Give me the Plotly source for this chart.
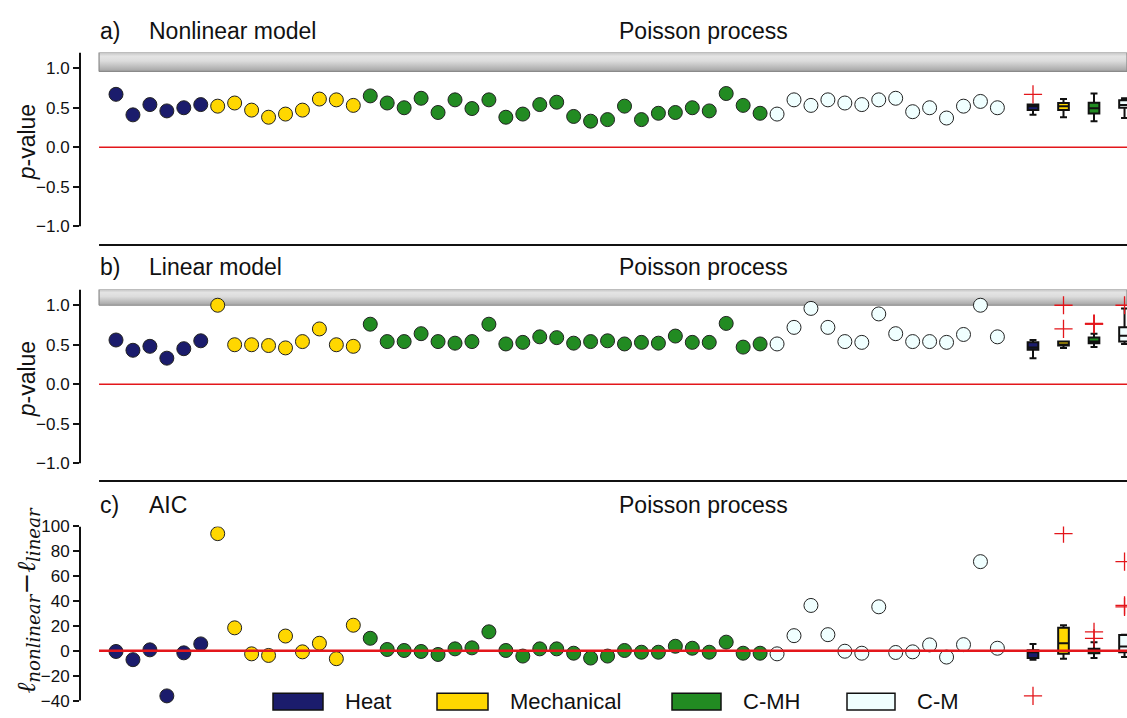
import numpy as np
import plotly.graph_objects as go

# ---- data -------------------------------------------------------------
groups = ["Heat", "Mechanical", "C-MH", "C-M"]
group_colors = ["#1b1c6c", "#ffd700", "#228b22", "#f0ffff"]

# a) nonlinear model p-values
heat_a = [0.67, 0.41, 0.54, 0.46, 0.50, 0.54]
mech_a = [0.52, 0.56, 0.47, 0.38, 0.42, 0.47, 0.61, 0.60, 0.53]
cmh_a = [0.65, 0.56, 0.50, 0.62, 0.44, 0.60, 0.49, 0.60, 0.38, 0.42, 0.54, 0.57,
         0.39, 0.33, 0.35, 0.52, 0.35, 0.43, 0.44, 0.50, 0.46, 0.68, 0.53, 0.43]
cm_a = [0.42, 0.60, 0.53, 0.60, 0.56, 0.54, 0.60, 0.62, 0.45, 0.50, 0.37, 0.52, 0.58, 0.50]

# b) linear model p-values
heat_b = [0.56, 0.43, 0.48, 0.33, 0.45, 0.55]
mech_b = [1.00, 0.50, 0.50, 0.49, 0.46, 0.54, 0.70, 0.50, 0.48]
cmh_b = [0.76, 0.54, 0.54, 0.64, 0.54, 0.52, 0.54, 0.76, 0.51, 0.53, 0.60, 0.59,
         0.52, 0.54, 0.55, 0.51, 0.53, 0.52, 0.61, 0.53, 0.53, 0.77, 0.47, 0.51]
cm_b = [0.51, 0.72, 0.96, 0.72, 0.54, 0.53, 0.89, 0.64, 0.54, 0.54, 0.53, 0.63, 1.00, 0.60]

# c) log-likelihood difference (AIC)
heat_c = [-0.5, -7.1, 0.8, -36.2, -1.6, 5.6]
mech_c = [94.2, 18.5, -2.4, -3.7, 11.9, -0.8, 6.1, -6.3, 20.6]
cmh_c = [10.1, 1.1, 0.3, -0.5, -2.9, 1.6, 2.4, 15.3, 0.3, -4.2, 1.6, 1.6,
         -1.9, -5.8, -4.2, 0.3, -1.1, -1.1, 3.7, 2.1, -1.1, 7.0, -1.9, -1.9]
cm_c = [-2.4, 12.2, 36.5, 13.0, -0.3, -1.9, 35.4, -1.3, -0.8, 4.8, -5.0, 5.0, 71.7, 2.1]

p_ticks = [-1.0, -0.5, 0.0, 0.5, 1.0]
aic_ticks = [-40, -20, 0, 20, 40, 60, 80, 100]

# ---- geometry ---------------------------------------------------------
W, H = 1127, 718
FONT = "Liberation Sans, Arial, Helvetica, sans-serif"
X0_PX, DX_PX = 116.0, 16.95        # pixel position of first sample and spacing
AXIS_PX = 80.0                     # left spine position
x_lo = (AXIS_PX - X0_PX) / DX_PX
x_hi = (W - X0_PX) / DX_PX
box_pos = [54.1, 55.9, 57.7, 59.5]
box_width = 0.63


def yp(px):
    return 1 - px / H


def fmt(v, dec):
    s = f"{abs(v):.{dec}f}"
    return ("\u2212" + s) if v < 0 else s


panels = [
    dict(data=[heat_a, mech_a, cmh_a, cm_a], top=44, bottom=239, rng=[-1.2375, 1.2],
         ticks=p_ticks, dec=1, axis_span=(-1.0, 1.2), band=(0.96, 1.2),
         label="a)", title="Nonlinear model", title_y=22, ytitle="<i>p</i>-value",
         ytitle_y=135, red_w=1.5, sep=True),
    dict(data=[heat_b, mech_b, cmh_b, cm_b], top=284, bottom=478, rng=[-1.225, 1.2],
         ticks=p_ticks, dec=1, axis_span=(-1.0, 1.2), band=(1.0, 1.2),
         label="b)", title="Linear model", title_y=261, ytitle="<i>p</i>-value",
         ytitle_y=375, red_w=1.5, sep=True),
    dict(data=[heat_c, mech_c, cmh_c, cm_c], top=524, bottom=718, rng=[-53.97, 100],
         ticks=aic_ticks, dec=0, axis_span=(-40, 100), band=None,
         label="c)", title="AIC", title_y=502,
         ytitle="<i>\u2113</i><sub><i>nonlinear</i></sub>\u2212<i>\u2113</i><sub><i>linear</i></sub>",
         ytitle_y=599, red_w=2.5, sep=False),
]

fig = go.Figure()
layout = dict(
    width=W, height=H, margin=dict(l=0, r=0, t=0, b=0), autosize=False,
    paper_bgcolor="white", plot_bgcolor="white", showlegend=False,
    font=dict(family=FONT, color="#111"),
)
shapes, annotations = [], []


def box_stats(values):
    v = np.asarray(values, dtype=float)
    q1, med, q3 = np.percentile(v, [25, 50, 75])
    iqr = q3 - q1
    lo_f, hi_f = q1 - 1.5 * iqr, q3 + 1.5 * iqr
    inside = v[(v >= lo_f) & (v <= hi_f)]
    out = v[(v < lo_f) | (v > hi_f)]
    return q1, med, q3, inside.min(), inside.max(), out


for k, p in enumerate(panels):
    sfx = "" if k == 0 else str(k + 1)
    xa, ya = "x" + sfx, "y" + sfx
    layout["xaxis" + sfx] = dict(domain=[AXIS_PX / W, 1], range=[x_lo, x_hi], visible=False,
                                 anchor=ya, fixedrange=True)
    layout["yaxis" + sfx] = dict(
        domain=[yp(p["bottom"]), yp(p["top"])], range=p["rng"], anchor=xa,
        showgrid=False, zeroline=False, showline=False,
        ticks="outside", ticklen=6, tickwidth=2, tickcolor="#111",
        tickvals=p["ticks"], ticktext=[fmt(t, p["dec"]) for t in p["ticks"]],
        tickfont=dict(size=17, family=FONT, color="#111"), fixedrange=True,
    )

    # shaded band above p = 1
    if p["band"] is not None:
        lo, hi = p["band"]
        fig.add_trace(go.Scatter(
            x=[-1, x_hi, x_hi, -1, -1], y=[lo, lo, hi, hi, lo], mode="lines",
            fill="toself",
            fillgradient=dict(type="vertical", colorscale=[
                [0, "#a4a4a4"], [0.55, "#dcdcdc"], [0.8, "#e4e4e4"], [1, "#c4c4c4"]]),
            line=dict(color="#8a8a8a", width=1.2), hoverinfo="skip",
            xaxis=xa, yaxis=ya))

    # box plots per group (drawn below the scatter layer)
    for g, (vals, col) in enumerate(zip(p["data"], group_colors)):
        q1, med, q3, wlo, whi, out = box_stats(vals)
        fig.add_trace(go.Box(
            x=[box_pos[g]], q1=[q1], median=[med], q3=[q3],
            lowerfence=[wlo], upperfence=[whi], width=box_width,
            whiskerwidth=0.65, fillcolor=col, line=dict(color="#111", width=2),
            boxpoints=False, hoverinfo="skip", xaxis=xa, yaxis=ya))

    # individual samples
    start = 0
    for vals, col, name in zip(p["data"], group_colors, groups):
        xs = list(range(start, start + len(vals)))
        start += len(vals)
        fig.add_trace(go.Scatter(
            x=xs, y=vals, mode="markers", name=name,
            marker=dict(size=14, color=col, line=dict(color="#222", width=1)),
            xaxis=xa, yaxis=ya))

    # zero reference line
    fig.add_trace(go.Scatter(
        x=[-1, x_hi], y=[0, 0], mode="lines", line=dict(color="#e3161b", width=p["red_w"]),
        hoverinfo="skip", xaxis=xa, yaxis=ya))

    # outliers of the box plots
    for g, vals in enumerate(p["data"]):
        out = box_stats(vals)[5]
        if len(out):
            fig.add_trace(go.Scatter(
                x=[box_pos[g]] * len(out), y=list(out), mode="markers",
                marker=dict(symbol="cross-thin", size=13, color="#e3161b",
                            line=dict(color="#e3161b", width=1.3)),
                hoverinfo="skip", xaxis=xa, yaxis=ya))

    # left spine
    shapes.append(dict(type="line", xref=xa + " domain", yref=ya, x0=0, x1=0,
                       y0=p["axis_span"][0], y1=p["axis_span"][1],
                       line=dict(color="#111", width=2)))
    # bottom spine (panel separator)
    if p["sep"]:
        shapes.append(dict(type="line", xref=xa, yref=ya + " domain", x0=-1, x1=x_hi,
                           y0=0, y1=0, line=dict(color="#111", width=2)))

    # panel labels and titles
    ty = yp(p["title_y"])
    annotations += [
        dict(text=p["label"], x=98 / W, y=ty, xref="paper", yref="paper",
             xanchor="left", yanchor="middle", showarrow=False,
             font=dict(size=23, family=FONT, color="#111")),
        dict(text=p["title"], x=147 / W, y=ty, xref="paper", yref="paper",
             xanchor="left", yanchor="middle", showarrow=False,
             font=dict(size=23, family=FONT, color="#111")),
        dict(text="Poisson process", x=617 / W, y=ty, xref="paper", yref="paper",
             xanchor="left", yanchor="middle", showarrow=False,
             font=dict(size=23, family=FONT, color="#111")),
    ]
    yfont = dict(size=23, family=FONT, color="#111") if k < 2 else \
        dict(size=26, family="DejaVu Serif, serif", color="#111")
    annotations.append(dict(text=p["ytitle"], x=27 / W, y=yp(p["ytitle_y"]),
                            xref="paper", yref="paper", xanchor="center",
                            yanchor="middle", textangle=-90, showarrow=False,
                            font=yfont))

# ---- legend (rectangular swatches) -----------------------------------
legend_boxes = [(273, 323), (437, 488), (672, 721), (847, 895)]
legend_y = (693, 710)
for (x0, x1), name, col in zip(legend_boxes, groups, group_colors):
    shapes.append(dict(type="rect", xref="paper", yref="paper",
                       x0=x0 / W, x1=x1 / W, y0=yp(legend_y[1]), y1=yp(legend_y[0]),
                       fillcolor=col, line=dict(color="#111", width=1.5)))
    annotations.append(dict(text=name, x=(x1 + 20) / W, y=yp(sum(legend_y) / 2),
                            xref="paper", yref="paper", xanchor="left",
                            yanchor="middle", showarrow=False,
                            font=dict(size=22, family=FONT, color="#111")))

layout["shapes"] = shapes
layout["annotations"] = annotations
fig.update_layout(**layout)
fig.write_html("out.html")
